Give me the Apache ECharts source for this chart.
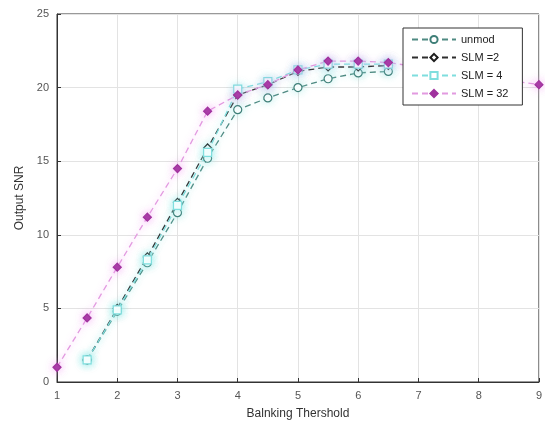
<!DOCTYPE html>
<html>
<head>
<meta charset="utf-8">
<script src="https://cdn.jsdelivr.net/npm/echarts@6/dist/echarts.min.js"></script>
<style>
  html, body { margin: 0; padding: 0; background: #fff; }
  #chart { width: 545px; height: 429px; }
</style>
</head>
<body>
<div id="chart"></div>
<script>
const thresholds = [1, 1.5, 2, 2.5, 3, 3.5, 4, 4.5, 5, 5.5, 6, 6.5, 9]
const unmod = [null, 1.5, 4.8, 8.1, 11.5, 15.2, 18.5, 19.3, 20.0, 20.6, 21.0, 21.1, null]
const slm2 = [null, 1.5, 5.0, 8.5, 12.2, 15.9, 19.5, 20.2, 21.1, 21.4, 21.4, 21.5, null]
const slm4 = [null, 1.5, 4.9, 8.3, 12.0, 15.6, 19.9, 20.4, 21.2, 21.6, 21.6, 21.6, null]
const slm32 = [1.0, 4.35, 7.8, 11.2, 14.5, 18.4, 19.5, 20.2, 21.2, 21.8, 21.8, 21.7, 20.2]
const xTicks = [1, 2, 3, 4, 5, 6, 7, 8, 9]

const chart = echarts.init(document.getElementById('chart'))

const toPairs = arr => thresholds.map((x, i) => [x, arr[i]]).filter(p => p[1] !== null)

const makeSeries = (name, arr, lineColor, markerColor, symbol, filled, glow) => ({
  name,
  type: 'line',
  data: toPairs(arr),
  symbol,
  symbolSize: 8,
  showSymbol: true,
  lineStyle: {
    color: lineColor,
    width: 1.3,
    type: [6, 4],
    shadowColor: glow,
    shadowBlur: 6
  },
  itemStyle: {
    color: filled ? markerColor : '#fff',
    borderColor: markerColor,
    borderWidth: 1.2,
    shadowColor: glow,
    shadowBlur: 8
  },
  emphasis: { disabled: true }
})

chart.setOption({
  animation: false,
  grid: {
    left: 57, right: 6, top: 14, bottom: 47,
    show: true,
    borderColor: '#333',
    borderWidth: 1
  },
  legend: {
    left: 403, top: 28,
    orient: 'vertical',
    backgroundColor: '#fff',
    borderColor: '#333',
    borderWidth: 1,
    padding: [6, 14, 6, 8],
    itemGap: 7,
    itemWidth: 44,
    itemHeight: 9,
    textStyle: { fontFamily: 'Liberation Sans, Arial', fontSize: 11, color: '#222' },
    data: ['unmod', 'SLM =2', 'SLM = 4', 'SLM = 32']
  },
  xAxis: {
    type: 'value',
    min: 1, max: 9, interval: 1,
    name: 'Balnking Thershold',
    nameLocation: 'middle',
    nameGap: 26,
    nameTextStyle: { fontFamily: 'Liberation Sans, Arial', fontSize: 12, color: '#333' },
    axisLine: { lineStyle: { color: '#333' } },
    axisTick: { inside: true, length: 4, lineStyle: { color: '#333' } },
    axisLabel: {
      fontFamily: 'Liberation Sans, Arial', fontSize: 11, color: '#555', margin: 8,
      formatter: v => xTicks.includes(v) ? String(v) : ''
    },
    splitLine: { lineStyle: { color: '#e3e3e3' } }
  },
  yAxis: {
    type: 'value',
    min: 0, max: 25, interval: 5,
    name: 'Output SNR',
    nameLocation: 'middle',
    nameGap: 31,
    nameTextStyle: { fontFamily: 'Liberation Sans, Arial', fontSize: 12, color: '#333' },
    axisLine: { show: true, lineStyle: { color: '#333' } },
    axisTick: { show: true, inside: true, length: 4, lineStyle: { color: '#333' } },
    axisLabel: { fontFamily: 'Liberation Sans, Arial', fontSize: 11, color: '#555', margin: 8 },
    splitLine: { lineStyle: { color: '#e3e3e3' } }
  },
  series: [
    makeSeries('unmod', unmod, '#4f8a82', '#3f7f78', 'circle', false, 'rgba(150,230,225,0.6)'),
    makeSeries('SLM =2', slm2, '#2e2e2e', '#1e1e1e', 'diamond', false, 'rgba(150,230,225,0.5)'),
    makeSeries('SLM = 4', slm4, '#7fdede', '#7fdede', 'rect', false, 'rgba(150,240,240,0.7)'),
    makeSeries('SLM = 32', slm32, '#e29ae0', '#a0329e', 'diamond', true, 'rgba(240,140,240,0.7)')
  ]
})
</script>
</body>
</html>
